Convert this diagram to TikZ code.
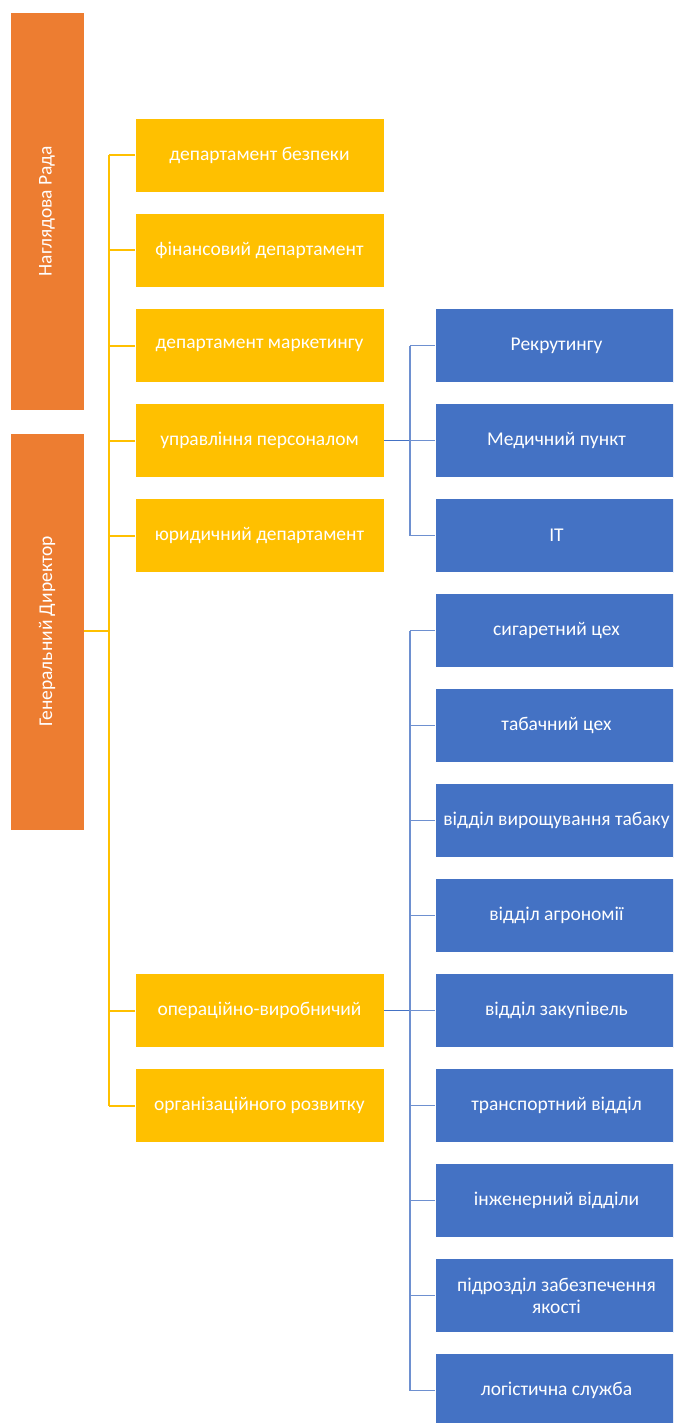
\documentclass[tikz,border=0pt]{standalone}
\usepackage{fontspec}
\setmainfont{Carlito}
\definecolor{orangeC}{HTML}{ED7D31}
\definecolor{yellowC}{HTML}{FFC000}
\definecolor{blueC}{HTML}{4472C4}
\definecolor{blueL}{HTML}{6E90D0}
\begin{document}
\begin{tikzpicture}[x=1pt,y=-1pt,
  base/.style={rectangle, draw=white, line width=0.6pt, text=white,
    font=\fontsize{19.5}{22}\selectfont, align=center, inner sep=2pt},
  yel/.style={base, fill=yellowC, minimum width=249pt, minimum height=74pt},
  blu/.style={base, fill=blueC, minimum width=243pt, minimum height=74pt},
  org/.style={base, fill=orangeC, minimum height=74pt, rotate=90},
  yline/.style={draw=yellowC, line width=2pt},
  bline/.style={draw=blueC, line width=1.8pt},
  bthin/.style={draw=blueL, line width=1.5pt}]
\clip (0,0) rectangle (673,1423);
\fill[white] (0,0) rectangle (673,1423);
% top level
\node[org, minimum width=398pt] (rada) at (47,211) {Наглядова Рада};
\node[org, minimum width=397pt] (gd) at (47,631.5) {Генеральний Директор};
% yellow level
\node[yel] (y1) at (259.5,155.5) {департамент безпеки};
\node[yel] (y2) at (259.5,250.5) {фінансовий департамент};
\node[yel] (y3) at (259.5,345.5) {департамент маркетингу};
\node[yel] (y4) at (259.5,440.5) {управління персоналом};
\node[yel] (y5) at (259.5,535.5) {юридичний департамент};
\node[yel] (y6) at (259.5,1010.5) {операційно-виробничий};
\node[yel] (y7) at (259.5,1105.5) {організаційного розвитку};
% blue level
\node[blu] (b1) at (556.5,345.5) {Рекрутингу};
\node[blu] (b2) at (556.5,440.5) {Медичний пункт};
\node[blu] (b3) at (556.5,535.5) {IT};
\node[blu] (b4) at (556.5,630.5) {сигаретний цех};
\node[blu] (b5) at (556.5,725.5) {табачний цех};
\node[blu] (b6) at (556.5,820.5) {відділ вирощування табаку};
\node[blu] (b7) at (556.5,915.5) {відділ агрономії};
\node[blu] (b8) at (556.5,1010.5) {відділ закупівель};
\node[blu] (b9) at (556.5,1105.5) {транспортний відділ};
\node[blu] (b10) at (556.5,1200.5) {інженерний відділи};
\node[blu] (b11) at (556.5,1295.5) {підрозділ забезпечення\\якості};
\node[blu] (b12) at (556.5,1390.5) {логістична служба};
% yellow connectors
\coordinate (ys) at (109,631);
\draw[yline] (gd.south |- ys) -- (ys);
\draw[yline] (ys |- y1.west) -- (ys |- y7.west);
\foreach \n in {y1,y2,y3,y4,y5,y6,y7}
  \draw[yline] (ys |- \n.west) -- (\n.west);
% HR connectors
\coordinate (bh) at (410,440.5);
\draw[bline] (y4.east) -- (bh);
\draw[bthin] (bh |- b1.west) -- (bh |- b3.west);
\foreach \n in {b1,b2,b3}
  \draw[bthin] (bh |- \n.west) -- (\n.west);
% operations connectors
\coordinate (bo) at (410,1010.5);
\draw[bline] (y6.east) -- (bo);
\draw[bthin] (bo |- b4.west) -- (bo |- b12.west);
\foreach \n in {b4,b5,b6,b7,b8,b9,b10,b11,b12}
  \draw[bthin] (bo |- \n.west) -- (\n.west);
\end{tikzpicture}
\end{document}
